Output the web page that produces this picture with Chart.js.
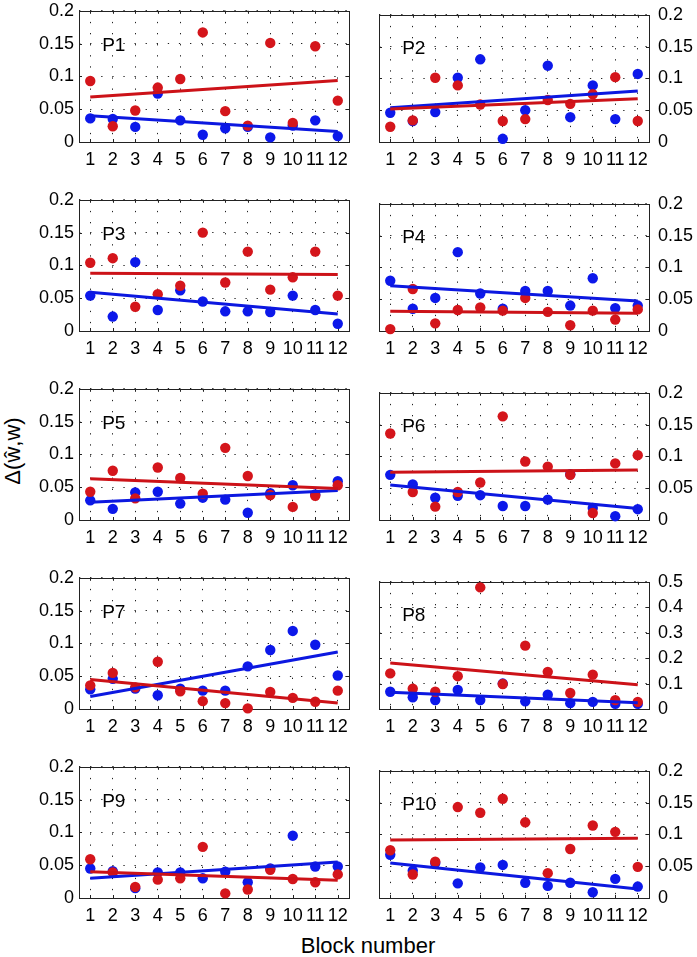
<!DOCTYPE html>
<html><head><meta charset="utf-8">
<script src="https://cdn.jsdelivr.net/npm/chart.js@4/dist/chart.umd.min.js"></script>
<style>
body{margin:0;background:#fff;width:697px;height:957px;position:relative;overflow:hidden;font-family:"Liberation Sans",Arial,Helvetica,sans-serif;}
canvas{position:absolute;}
#ytitle{position:absolute;left:13px;top:451px;font-size:22px;line-height:22px;white-space:nowrap;transform:translate(-50%,-50%) rotate(-90deg);color:#000;}
#xtitle{position:absolute;left:368px;top:935px;font-size:22px;line-height:22px;white-space:nowrap;transform:translateX(-50%);color:#000;}
</style></head><body>
<div id="ytitle">Δ(ŵ,w)</div>
<div id="xtitle">Block number</div>
<script>
// ---- data ----
const blocks = [1,2,3,4,5,6,7,8,9,10,11,12];
const xTickLabels = ['1','2','3','4','5','6','7','8','9','10','11','12'];
const yTicksStd = [0,0.05,0.1,0.15,0.2];
const yLabelsStd = ['0','0.05','0.1','0.15','0.2'];
const yTicksP8 = [0,0.1,0.2,0.3,0.4,0.5];
const yLabelsP8 = ['0','0.1','0.2','0.3','0.4','0.5'];
const fitX = [1,12];

const p1Red  = [0.093,0.024,0.048,0.083,0.096,0.167,0.047,0.025,0.151,0.029,0.146,0.063];
const p1Blue = [0.036,0.035,0.023,0.074,0.033,0.011,0.021,0.023,0.007,0.025,0.033,0.009];
const p1RedFit = [0.0685,0.0938], p1BlueFit = [0.040,0.016];

const p2Red  = [0.024,0.034,0.101,0.089,0.059,0.033,0.036,0.066,0.060,0.075,0.102,0.033];
const p2Blue = [0.046,0.033,0.047,0.101,0.130,0.005,0.050,0.120,0.039,0.089,0.036,0.107];
const p2RedFit = [0.052,0.068], p2BlueFit = [0.054,0.080];

const p3Red  = [0.104,0.111,0.037,0.056,0.069,0.150,0.074,0.121,0.063,0.082,0.121,0.054];
const p3Blue = [0.054,0.022,0.105,0.032,0.062,0.045,0.030,0.030,0.029,0.054,0.032,0.011];
const p3RedFit = [0.088,0.086], p3BlueFit = [0.059,0.026];

const p4Red  = [0.003,0.066,0.012,0.033,0.037,0.032,0.052,0.030,0.009,0.032,0.018,0.034];
const p4Blue = [0.079,0.035,0.052,0.124,0.059,0.035,0.063,0.063,0.040,0.083,0.036,0.040];
const p4RedFit = [0.031,0.028], p4BlueFit = [0.071,0.047];

const p5Red  = [0.043,0.075,0.033,0.080,0.064,0.040,0.110,0.067,0.038,0.020,0.037,0.053];
const p5Blue = [0.030,0.017,0.042,0.043,0.025,0.034,0.031,0.011,0.041,0.053,0.039,0.059];
const p5RedFit = [0.063,0.048], p5BlueFit = [0.027,0.045];

const p6Red  = [0.136,0.044,0.021,0.044,0.059,0.163,0.092,0.084,0.071,0.011,0.089,0.102];
const p6Blue = [0.071,0.056,0.035,0.038,0.039,0.022,0.022,0.032,0.072,0.019,0.006,0.017];
const p6RedFit = [0.075,0.0785], p6BlueFit = [0.055,0.018];

const p7Red  = [0.036,0.055,0.033,0.072,0.027,0.012,0.009,0.001,0.026,0.017,0.011,0.028];
const p7Blue = [0.030,0.046,0.031,0.021,0.031,0.028,0.028,0.065,0.090,0.119,0.098,0.051];
const p7RedFit = [0.045,0.009], p7BlueFit = [0.019,0.087];

const p8Red  = [0.140,0.080,0.068,0.129,0.478,0.098,0.249,0.146,0.063,0.135,0.035,0.028];
const p8Blue = [0.068,0.046,0.035,0.075,0.035,0.100,0.030,0.056,0.023,0.028,0.020,0.020];
const p8RedFit = [0.181,0.095], p8BlueFit = [0.066,0.025];

const p9Red  = [0.059,0.039,0.017,0.028,0.030,0.078,0.007,0.013,0.043,0.029,0.024,0.036];
const p9Blue = [0.045,0.041,0.015,0.039,0.039,0.030,0.040,0.024,0.045,0.095,0.048,0.048];
const p9RedFit = [0.040,0.027], p9BlueFit = [0.030,0.055];

const p10Red  = [0.075,0.037,0.057,0.143,0.134,0.156,0.119,0.039,0.077,0.114,0.104,0.049];
const p10Blue = [0.068,0.043,0.055,0.023,0.048,0.052,0.024,0.019,0.024,0.009,0.030,0.018];
const p10RedFit = [0.091,0.094], p10BlueFit = [0.055,0.014];

const panelNames = ['P1','P2','P3','P4','P5','P6','P7','P8','P9','P10'];
const panels = [
  {red:p1Red, blue:p1Blue, rf:p1RedFit, bf:p1BlueFit},
  {red:p2Red, blue:p2Blue, rf:p2RedFit, bf:p2BlueFit},
  {red:p3Red, blue:p3Blue, rf:p3RedFit, bf:p3BlueFit},
  {red:p4Red, blue:p4Blue, rf:p4RedFit, bf:p4BlueFit},
  {red:p5Red, blue:p5Blue, rf:p5RedFit, bf:p5BlueFit},
  {red:p6Red, blue:p6Blue, rf:p6RedFit, bf:p6BlueFit},
  {red:p7Red, blue:p7Blue, rf:p7RedFit, bf:p7BlueFit},
  {red:p8Red, blue:p8Blue, rf:p8RedFit, bf:p8BlueFit, ticks:yTicksP8, labels:yLabelsP8},
  {red:p9Red, blue:p9Blue, rf:p9RedFit, bf:p9BlueFit},
  {red:p10Red, blue:p10Blue, rf:p10RedFit, bf:p10BlueFit}
];

// ---- style ----
const FONT = '"Liberation Sans", Arial, Helvetica, sans-serif';
const RED = '#d4151b', BLUE = '#0c18ea';
const RED_LINE = '#cc1218', BLUE_LINE = '#0c18e0';
const rowTops = [7,196,385,574,763];
const PLOT_W = 270, PLOT_H = 135, PAD_T = 12, X_H = 34;

const boxPlugin = {
  id:'box',
  beforeDatasetsDraw(chart, args, opts){
    const ctx = chart.ctx, a = chart.chartArea;
    const xs = chart.scales.x, ys = chart.scales.y;
    ctx.save();
    ctx.strokeStyle = '#222';
    ctx.lineWidth = 1;
    ctx.beginPath();
    xs.ticks.forEach(t=>{
      const px = Math.round(xs.getPixelForValue(t.value))+0.5;
      ctx.moveTo(px,a.bottom); ctx.lineTo(px,a.bottom-3);
      ctx.moveTo(px,a.top); ctx.lineTo(px,a.top+3);
    });
    ys.ticks.forEach(t=>{
      const py = Math.round(ys.getPixelForValue(t.value))+0.5;
      ctx.moveTo(a.left,py); ctx.lineTo(a.left+3,py);
      ctx.moveTo(a.right,py); ctx.lineTo(a.right-3,py);
    });
    ctx.stroke();
    ctx.strokeRect(Math.round(a.left)+0.5, Math.round(a.top)+0.5, Math.round(a.right-a.left), Math.round(a.bottom-a.top));
    ctx.fillStyle = '#000';
    ctx.font = '19px ' + FONT;
    ctx.textBaseline = 'alphabetic';
    ctx.textAlign = 'left';
    const lx = xs.getPixelForValue(1.53);
    const ly = a.top + (a.bottom-a.top)*0.25 + 7;
    ctx.fillText(opts.label, lx, ly);
    ctx.restore();
  }
};

panels.forEach((p, i) => {
  const col = i % 2, row = Math.floor(i/2);
  const cv = document.createElement('canvas');
  let cw, padL, padR, yW, yPad;
  if (col === 0) { cw = 360; padL = 0; padR = 11; yW = 79; yPad = 5; cv.style.left = '0px'; }
  else { cw = 327; padL = 9; padR = 0; yW = 48; yPad = 9; cv.style.left = '370px'; }
  const ch = PAD_T + PLOT_H + X_H;
  cv.width = cw; cv.height = ch;
  cv.style.width = cw + 'px'; cv.style.height = ch + 'px';
  cv.style.top = (rowTops[row] - PAD_T) + 'px';
  document.body.appendChild(cv);
  const yt = p.ticks || yTicksStd, yl = p.labels || yLabelsStd;
  const tickFont = {family: FONT, size: 18};
  new Chart(cv, {
    type: 'scatter',
    data: { datasets: [
      {data: blocks.map((b,k)=>({x:b, y:p.blue[k]})), backgroundColor: BLUE, borderColor: BLUE, pointRadius: 5.2, pointBorderWidth: 0, clip: false, order: 4},
      {data: blocks.map((b,k)=>({x:b, y:p.red[k]})), backgroundColor: RED, borderColor: RED, pointRadius: 5.2, pointBorderWidth: 0, clip: false, order: 3},
      {data: fitX.map((b,k)=>({x:b, y:p.bf[k]})), showLine: true, borderColor: BLUE_LINE, borderWidth: 3, pointRadius: 0, clip: false, order: 2},
      {data: fitX.map((b,k)=>({x:b, y:p.rf[k]})), showLine: true, borderColor: RED_LINE, borderWidth: 3, pointRadius: 0, clip: false, order: 1}
    ]},
    options: {
      responsive: false, animation: false, devicePixelRatio: 1,
      layout: {padding: {top: PAD_T, left: padL, right: padR, bottom: 0}},
      plugins: {legend: {display: false}, tooltip: {enabled: false}, box: {label: panelNames[i]}},
      scales: {
        x: {
          type: 'linear', min: 0.5, max: 12.5,
          afterBuildTicks: ax => { ax.ticks = blocks.map(v => ({value: v})); },
          afterFit: s => { s.height = X_H; },
          grid: {color: '#222', lineWidth: 1, drawTicks: false},
          border: {display: false, dash: [1.3, 9.8]},
          ticks: {color: '#000', font: tickFont, padding: 7, maxRotation: 0, autoSkip: false,
                  callback: (v, k) => xTickLabels[k]}
        },
        y: {
          type: 'linear', position: col === 0 ? 'left' : 'right',
          min: yt[0], max: yt[yt.length-1],
          afterBuildTicks: ax => { ax.ticks = yt.map(v => ({value: v})); },
          afterFit: s => { s.width = yW; },
          grid: {color: '#222', lineWidth: 1, drawTicks: false},
          border: {display: false, dash: [1.3, 9.8]},
          ticks: {color: '#000', font: tickFont, padding: yPad, autoSkip: false,
                  callback: (v, k) => yl[k]}
        }
      }
    },
    plugins: [boxPlugin]
  });
});
</script>
</body></html>
